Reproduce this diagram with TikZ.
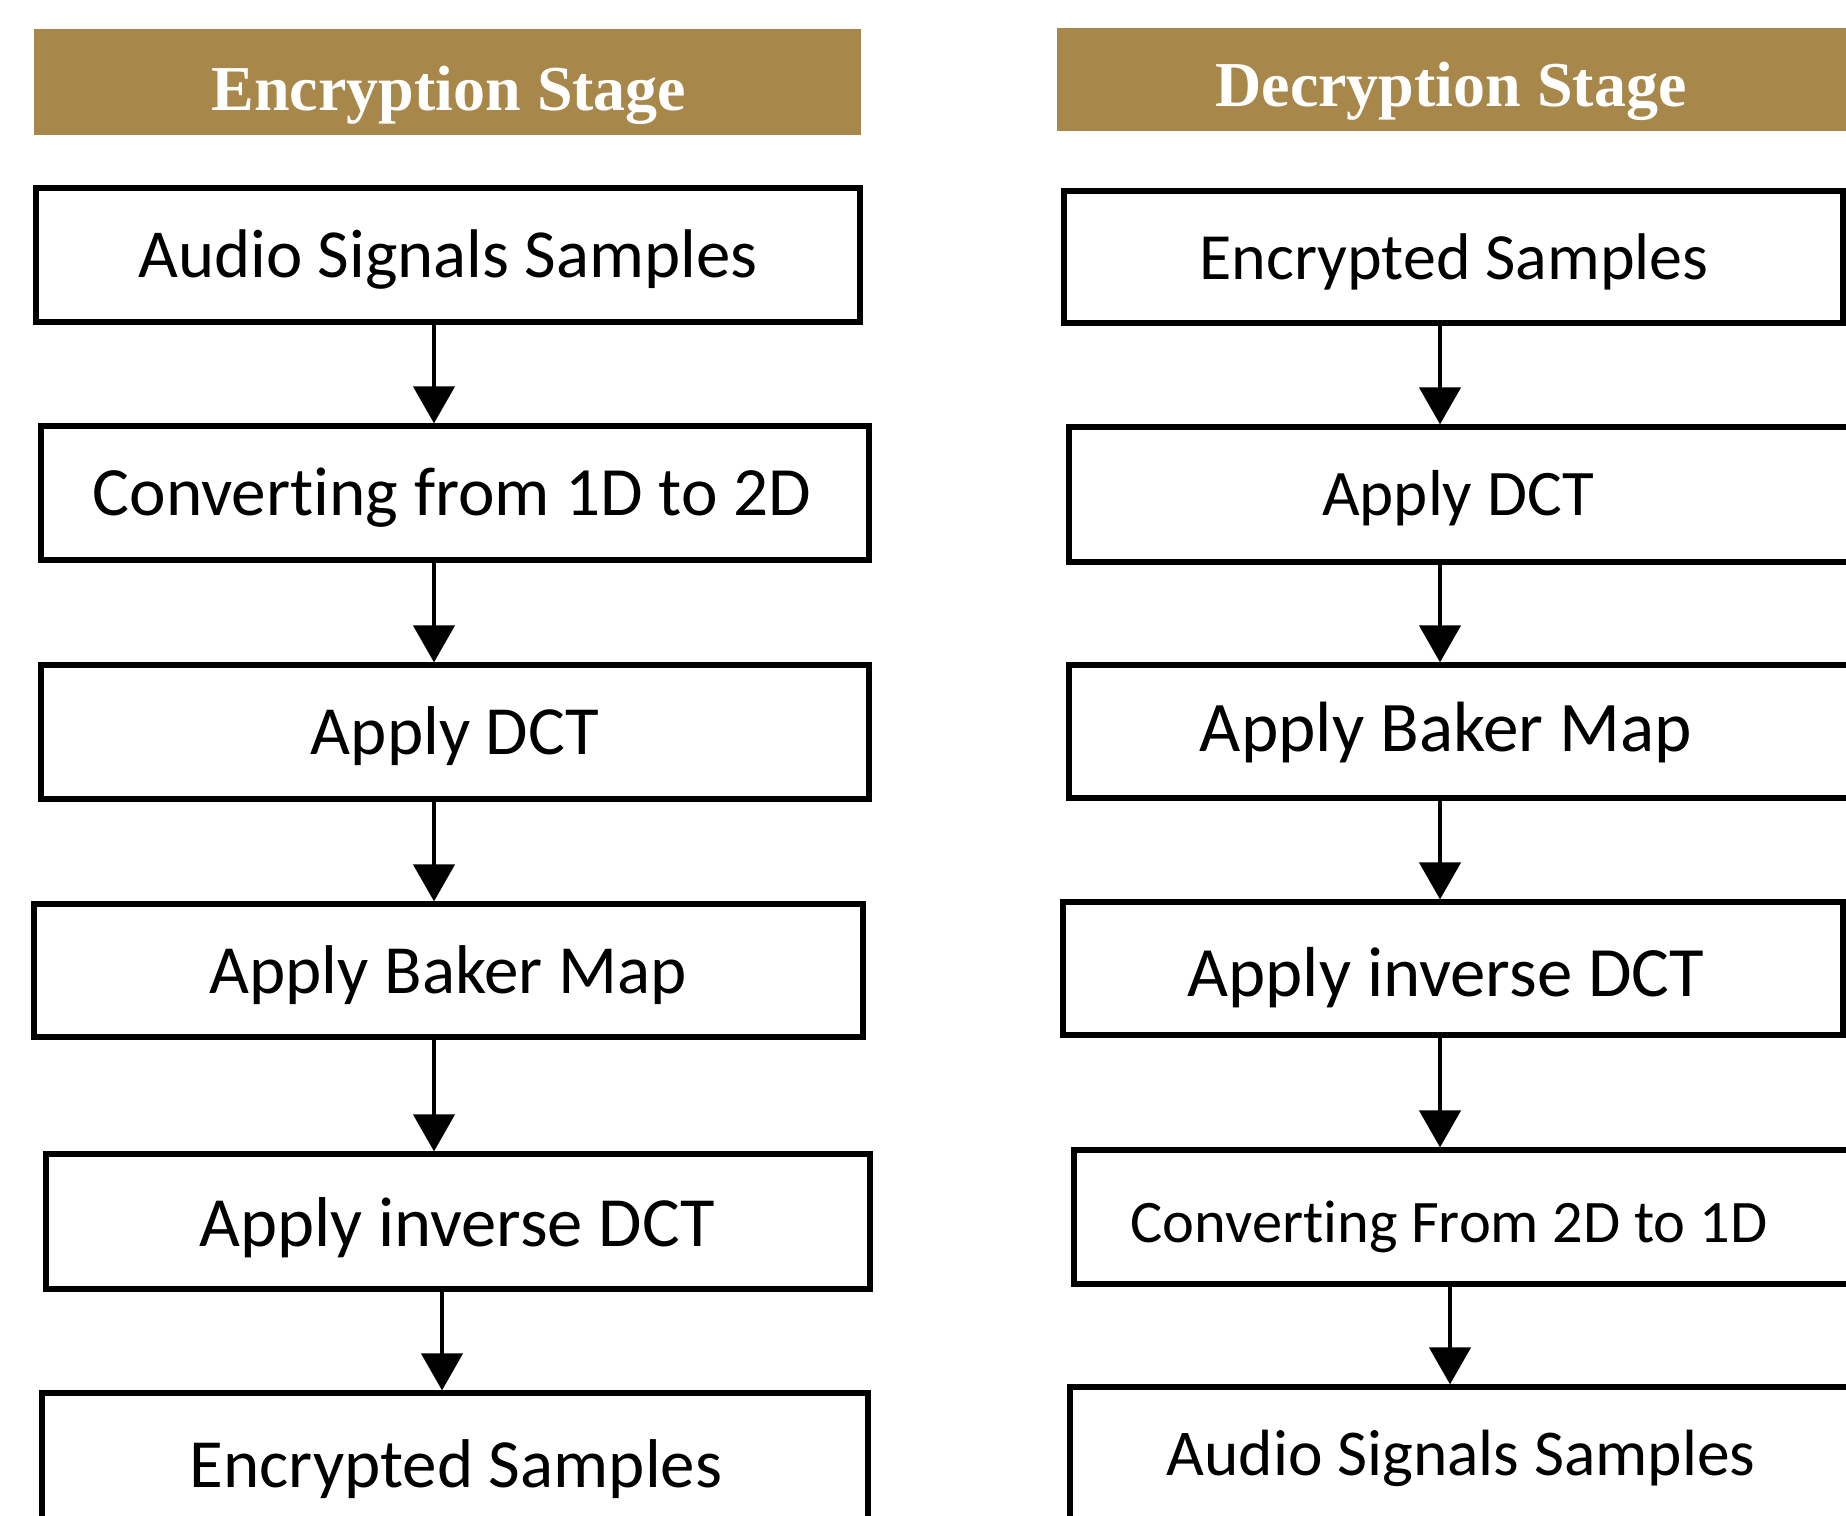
\documentclass[tikz,border=0pt]{standalone}
\usepackage{fontspec}
\setmainfont{Carlito}[Ligatures={NoCommon,NoContextual,NoRequired}]
\newfontfamily\hdfont{Liberation Serif}
\usetikzlibrary{arrows.meta}
\definecolor{hdgold}{RGB}{168,135,74}
\tikzset{
  box/.style={draw=black, line width=2.6pt, inner sep=0pt, fill=white},
  hdr/.style={fill=hdgold, draw=none, inner sep=0pt},
  txt/.style={inner sep=0pt, anchor=base, text=black},
  htxt/.style={inner sep=0pt, anchor=base, text=white, font=\hdfont\bfseries\fontsize{32}{38}\selectfont},
  arr/.style={line width=2.2pt, -{Triangle[width=20.5pt,length=18.5pt]}},
}
\newcommand{\fs}[1]{\fontsize{#1}{#1}\selectfont}
\begin{document}
\begin{tikzpicture}[x=0.5pt,y=-0.5pt]
\path[use as bounding box, clip] (0,0) rectangle (1846,1515);
\fill[white] (0,0) rectangle (1846,1515);

% headers
\node[hdr, minimum width=413.5pt, minimum height=53pt] (hL) at (447.5,82) {};
\node[hdr, minimum width=421.5pt, minimum height=51.5pt] (hR) at (1478.5,79.5) {};
\node[htxt] (hLt) at (449,110) {Encryption Stage};
\node[htxt] (hRt) at (1451,106) {Decryption Stage};

% left boxes
\node[box, minimum width=412pt, minimum height=67pt] (L1) at (448,255) {};
\node[box, minimum width=414pt, minimum height=67pt] (L2) at (455,493) {};
\node[box, minimum width=414pt, minimum height=67pt] (L3) at (455,732) {};
\node[box, minimum width=414.5pt, minimum height=66.5pt] (L4) at (448.5,970.5) {};
\node[box, minimum width=412pt, minimum height=67.5pt] (L5) at (458,1221.5) {};
\node[box, minimum width=413pt, minimum height=67pt] (L6) at (455,1460) {};

\node[txt, font=\fs{34.4}] (L1t) at (448,277) {Audio Signals Samples};
\node[txt, font=\fs{34.6}] (L2t) at (452,515) {Convert\kern0pt ing from 1D to 2D};
\node[txt, font=\fs{34.5}] (L3t) at (455,754) {Apply DCT};
\node[txt, font=\fs{34.5}] (L4t) at (448,993) {Apply Baker Map};
\node[txt, font=\fs{35.3}] (L5t) at (457,1246) {Apply inverse DCT};
\node[txt, font=\fs{34.5}] (L6t) at (456,1487) {Encrypted Samples};

% right boxes
\node[box, minimum width=389.5pt, minimum height=66pt] (R1) at (1453.5,257) {};
\node[box, minimum width=415.5pt, minimum height=67.5pt] (R2) at (1484.5,494.5) {};
\node[box, minimum width=415.5pt, minimum height=66.5pt] (R3) at (1484.5,731.5) {};
\node[box, minimum width=390pt, minimum height=66.5pt] (R4) at (1453,968.5) {};
\node[box, minimum width=413pt, minimum height=67pt] (R5) at (1487,1217) {};
\node[box, minimum width=415pt, minimum height=67pt] (R6) at (1485,1454) {};

\node[txt, font=\fs{33}] (R1t) at (1454,279) {Encrypted Samples};
\node[txt, font=\fs{32.5}] (R2t) at (1458,515) {Apply DCT};
\node[txt, font=\fs{35.6}] (R3t) at (1446,751) {Apply Baker Map};
\node[txt, font=\fs{35.4}] (R4t) at (1446,996) {Apply inverse DCT};
\node[txt, font=\fs{30.2}] (R5t) at (1449,1242) {Convert\kern0pt ing From 2D to 1D};
\node[txt, font=\fs{32.7}] (R6t) at (1461,1475) {Audio Signals Samples};

% arrow columns
\coordinate (axL) at (434,0);
\coordinate (axL2) at (442,0);
\coordinate (axR) at (1440,0);
\coordinate (axR2) at (1450,0);

\draw[arr] (L1.south -| axL) -- (L2.north -| axL);
\draw[arr] (L2.south -| axL) -- (L3.north -| axL);
\draw[arr] (L3.south -| axL) -- (L4.north -| axL);
\draw[arr] (L4.south -| axL) -- (L5.north -| axL);
\draw[arr] (L5.south -| axL2) -- (L6.north -| axL2);

\draw[arr] (R1.south -| axR) -- (R2.north -| axR);
\draw[arr] (R2.south -| axR) -- (R3.north -| axR);
\draw[arr] (R3.south -| axR) -- (R4.north -| axR);
\draw[arr] (R4.south -| axR) -- (R5.north -| axR);
\draw[arr] (R5.south -| axR2) -- (R6.north -| axR2);
\end{tikzpicture}
\end{document}
